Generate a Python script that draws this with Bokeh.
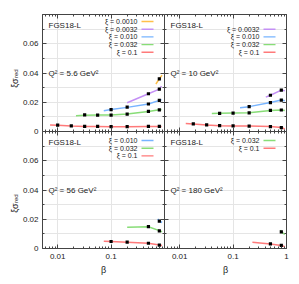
import math
from bokeh.plotting import figure
from bokeh.models import (FixedTicker, LinearAxis, LogAxis, Range1d, Label,
                          BoxAnnotation, PrintfTickFormatter, GridPlot)
from bokeh.core.properties import value
from bokeh.embed import file_html
from bokeh.resources import INLINE

# ---------------- data ----------------
q2_labels = ["Q² = 5.6 GeV²", "Q² = 10 GeV²", "Q² = 56 GeV²", "Q² = 180 GeV²"]
xi_labels = ["ξ = 0.0010", "ξ = 0.0032", "ξ = 0.010", "ξ = 0.032", "ξ = 0.1"]
xi_colors = ["#ffc04a", "#c490f5", "#77b4ff", "#88dd77", "#ff7a7a"]
x_ticks_left = [0.01, 0.1]
x_ticks_right = [0.01, 0.1, 1]
x_ticks_all = [0.01, 0.1, 1]
y_ticks = [0, 0.02, 0.04, 0.06]
y_ticks_all = [0, 0.02, 0.04, 0.06, 0.08]

# Q2 = 5.6 GeV2
q5_x0010_cb = [0.69, 0.8, 0.9]
q5_x0010_cv = [0.0325, 0.036, 0.0385]
q5_x0010_pb = [0.8]
q5_x0010_pv = [0.036]
q5_x0032_cb = [0.2, 0.5, 0.8, 0.88]
q5_x0032_cv = [0.0197, 0.0258, 0.029, 0.031]
q5_x0032_pb = [0.5, 0.8]
q5_x0032_pv = [0.0258, 0.029]
q5_x010_cb = [0.073, 0.1, 0.2, 0.5, 0.8, 0.88]
q5_x010_cv = [0.0142, 0.015, 0.0165, 0.0188, 0.0213, 0.0218]
q5_x010_pb = [0.1, 0.2, 0.5, 0.8]
q5_x010_pv = [0.015, 0.0166, 0.0188, 0.0213]
q5_x032_cb = [0.022, 0.032, 0.056, 0.1, 0.2, 0.5, 0.8, 0.88]
q5_x032_cv = [0.0108, 0.0111, 0.0112, 0.0112, 0.0119, 0.0137, 0.0148, 0.015]
q5_x032_pb = [0.032, 0.056, 0.1, 0.2, 0.5, 0.8]
q5_x032_pv = [0.0113, 0.0112, 0.0112, 0.0119, 0.0137, 0.0148]
q5_x1_cb = [0.0072, 0.01, 0.018, 0.032, 0.056, 0.1, 0.2, 0.5, 0.8, 0.88]
q5_x1_cv = [0.0045, 0.0043, 0.0038, 0.0035, 0.0034, 0.0033, 0.0033, 0.0035, 0.0035, 0.0035]
q5_x1_pb = [0.01, 0.018, 0.032, 0.056, 0.1, 0.2, 0.5, 0.8]
q5_x1_pv = [0.0043, 0.0038, 0.0035, 0.0035, 0.0034, 0.0034, 0.0035, 0.0035]

# Q2 = 10 GeV2
q10_x0032_cb = [0.41, 0.5, 0.8, 0.93]
q10_x0032_cv = [0.0235, 0.0248, 0.0283, 0.0278]
q10_x0032_pb = [0.5, 0.8]
q10_x0032_pv = [0.0248, 0.0283]
q10_x010_cb = [0.135, 0.2, 0.5, 0.8, 0.93]
q10_x010_cv = [0.0163, 0.017, 0.0198, 0.0215, 0.021]
q10_x010_pb = [0.2, 0.5, 0.8]
q10_x010_pv = [0.017, 0.0198, 0.0215]
q10_x032_cb = [0.04, 0.056, 0.1, 0.2, 0.5, 0.8, 0.93]
q10_x032_cv = [0.0123, 0.0124, 0.0126, 0.0128, 0.0144, 0.0147, 0.0143]
q10_x032_pb = [0.056, 0.1, 0.2, 0.5, 0.8]
q10_x032_pv = [0.0124, 0.0126, 0.0128, 0.0145, 0.0147]
q10_x1_cb = [0.013, 0.018, 0.032, 0.056, 0.1, 0.2, 0.5, 0.8, 0.93]
q10_x1_cv = [0.0055, 0.0052, 0.0045, 0.004, 0.0038, 0.0037, 0.0034, 0.0027, 0.0017]
q10_x1_pb = [0.018, 0.032, 0.056, 0.1, 0.2, 0.5, 0.8]
q10_x1_pv = [0.0052, 0.0045, 0.004, 0.0038, 0.0037, 0.0034, 0.0026]

# Q2 = 56 GeV2
q56_x010_cb = [0.75, 0.8, 0.9]
q56_x010_cv = [0.0203, 0.0188, 0.0178]
q56_x010_pb = [0.8]
q56_x010_pv = [0.0187]
q56_x032_cb = [0.2, 0.5, 0.8, 0.9]
q56_x032_cv = [0.0145, 0.0149, 0.0122, 0.0115]
q56_x032_pb = [0.5, 0.8]
q56_x032_pv = [0.0149, 0.012]
q56_x1_cb = [0.073, 0.1, 0.2, 0.5, 0.8, 0.9]
q56_x1_cv = [0.005, 0.0048, 0.0043, 0.0036, 0.0024, 0.002]
q56_x1_pb = [0.1, 0.2, 0.5, 0.8]
q56_x1_pv = [0.0048, 0.0043, 0.0036, 0.0023]

# Q2 = 180 GeV2
q180_x032_cb = [0.77, 0.8, 0.93]
q180_x032_cv = [0.0127, 0.0113, 0.0097]
q180_x032_pb = [0.8]
q180_x032_pv = [0.0113]
q180_x1_cb = [0.23, 0.5, 0.8, 0.93]
q180_x1_cv = [0.0043, 0.0031, 0.0021, 0.0013]
q180_x1_pb = [0.5, 0.8]
q180_x1_pv = [0.0031, 0.0021]

panels = [
    dict(q2=q2_labels[0], legend=[0, 1, 2, 3, 4], first_row=0, series=[
        (0, q5_x0010_cb, q5_x0010_cv, q5_x0010_pb, q5_x0010_pv),
        (1, q5_x0032_cb, q5_x0032_cv, q5_x0032_pb, q5_x0032_pv),
        (2, q5_x010_cb, q5_x010_cv, q5_x010_pb, q5_x010_pv),
        (3, q5_x032_cb, q5_x032_cv, q5_x032_pb, q5_x032_pv),
        (4, q5_x1_cb, q5_x1_cv, q5_x1_pb, q5_x1_pv)]),
    dict(q2=q2_labels[1], legend=[1, 2, 3, 4], first_row=1, series=[
        (1, q10_x0032_cb, q10_x0032_cv, q10_x0032_pb, q10_x0032_pv),
        (2, q10_x010_cb, q10_x010_cv, q10_x010_pb, q10_x010_pv),
        (3, q10_x032_cb, q10_x032_cv, q10_x032_pb, q10_x032_pv),
        (4, q10_x1_cb, q10_x1_cv, q10_x1_pb, q10_x1_pv)]),
    dict(q2=q2_labels[2], legend=[2, 3, 4], first_row=0, series=[
        (2, q56_x010_cb, q56_x010_cv, q56_x010_pb, q56_x010_pv),
        (3, q56_x032_cb, q56_x032_cv, q56_x032_pb, q56_x032_pv),
        (4, q56_x1_cb, q56_x1_cv, q56_x1_pb, q56_x1_pv)]),
    dict(q2=q2_labels[3], legend=[3, 4], first_row=0, series=[
        (3, q180_x032_cb, q180_x032_cv, q180_x032_pb, q180_x032_pv),
        (4, q180_x1_cb, q180_x1_cv, q180_x1_pb, q180_x1_pv)]),
]

# ---------------- styling ----------------
FW, FH = 122, 117
TOP = 14          # space above the upper panels
BOT = 36          # space below the lower panels (x tick labels + title)
LW = 42           # width of the left strip (y tick labels + y title)
SH = TOP + 2 * FH + BOT   # the strip spans both rows exactly
XMIN, XMAX = 0.0052, 1.0
YMAX = 0.08
AX = "#444444"
TXT = "#222222"
FONT = "Liberation Sans"
minor_x = [m * 10.0 ** e for e in (-3, -2, -1) for m in range(2, 10)]
minor_y = [i * 0.01 for i in range(0, 9)]


def base_style(ax):
    ax.axis_line_color = AX
    ax.major_tick_line_color = AX
    ax.minor_tick_line_color = AX
    ax.major_tick_in = 4
    ax.major_tick_out = 0
    ax.minor_tick_in = 2
    ax.minor_tick_out = 0
    ax.major_label_standoff = 0
    ax.axis_label_standoff = 0


def mirror_axes(p, kind, loc, majors, minors):
    # label-free axes: majors and minors both drawn as "minor" ticks
    for ticks, length in ((majors, 4), (minors, 2)):
        cls = LogAxis if kind == "x" else LinearAxis
        ax = cls(ticker=FixedTicker(ticks=[], minor_ticks=ticks))
        base_style(ax)
        ax.minor_tick_in = length
        if length == 2:
            ax.axis_line_color = None
        p.add_layout(ax, loc)


def make_panel(i, spec):
    left = (i % 2 == 0)
    bottom = (i >= 2)
    p = figure(frame_width=FW, frame_height=FH, x_axis_type="log",
               x_range=Range1d(XMIN, XMAX), y_range=Range1d(0, YMAX),
               output_backend="svg", toolbar_location=None,
               x_axis_location=None, y_axis_location=None,
               min_border_left=0,
               min_border_right=0 if left else 12,
               min_border_top=0 if bottom else TOP,
               min_border_bottom=BOT if bottom else 0)
    p.outline_line_color = None
    p.background_fill_color = "white"
    p.border_fill_color = "white"

    # x axes
    if bottom:
        xt = x_ticks_left if left else x_ticks_right
        ax = LogAxis(ticker=FixedTicker(ticks=xt, minor_ticks=minor_x),
                     formatter=PrintfTickFormatter(format="%g"))
        base_style(ax)
        ax.major_label_text_font = FONT
        ax.major_label_text_font_size = "8px"
        ax.major_label_text_color = TXT
        ax.major_label_standoff = 5
        ax.axis_label = "β"
        ax.axis_label_text_font = FONT
        ax.axis_label_text_font_style = "normal"
        ax.axis_label_text_font_size = "9px"
        ax.axis_label_text_color = TXT
        ax.axis_label_standoff = 3
        p.add_layout(ax, "below")
    else:
        mirror_axes(p, "x", "below", x_ticks_all, minor_x)
    mirror_axes(p, "x", "above", x_ticks_all, minor_x)

    # y axes (tick labels of the left column live in the strip)
    mirror_axes(p, "y", "left", y_ticks_all, minor_y)
    mirror_axes(p, "y", "right", y_ticks_all, minor_y)

    for (k, cb, cv, pb, pv) in spec["series"]:
        p.line(cb, cv, line_color=xi_colors[k], line_width=1.5)
    for (k, cb, cv, pb, pv) in spec["series"]:
        p.scatter(pb, pv, marker="square", size=3.2, fill_color="black",
                  line_color=None)

    # texts
    p.add_layout(Label(x=6, y=FH - 11, x_units="screen", y_units="screen",
                       text="FGS18-L", text_font=FONT, text_font_size="8px",
                       text_color=TXT, text_baseline="middle"))
    p.add_layout(Label(x=6, y=0.04, x_units="screen", y_units="data",
                       text=spec["q2"], text_font=FONT, text_font_size="8px",
                       text_color=TXT, text_baseline="middle"))
    # legend (gnuplot style: text then line sample)
    top0 = 9 if bottom else 7
    for r, k in enumerate(spec["legend"]):
        ry = FH - top0 - 7.7 * (r + spec["first_row"])
        p.add_layout(Label(x=FW - 27, y=ry, x_units="screen", y_units="screen",
                           text=xi_labels[k], text_font=FONT, text_font_size="7px",
                           text_color=TXT, text_align="right", text_baseline="middle"))
        p.add_layout(BoxAnnotation(left=FW - 23, right=FW - 11, bottom=ry - 0.7, top=ry + 0.7,
                                   left_units="screen", right_units="screen",
                                   top_units="screen", bottom_units="screen",
                                   fill_color=xi_colors[k], fill_alpha=1.0,
                                   line_color=None))
    return p


def left_strip():
    # strip left of the panels: y tick labels of both rows and the rotated y titles
    # its frame starts TOP px below the canvas top, like the upper panels' frames
    per_px = YMAX / FH
    y_top_zero = TOP + FH          # canvas y of the upper panel's zero line
    y_bot_zero = TOP + 2 * FH      # canvas y of the lower panel's zero line
    s = figure(frame_width=LW, frame_height=SH - TOP, output_backend="svg",
               toolbar_location=None, x_axis_location=None, y_axis_location=None,
               x_range=Range1d(0, LW),
               y_range=Range1d(-(SH - y_bot_zero) * per_px, (y_bot_zero - TOP) * per_px),
               min_border_left=0, min_border_right=0,
               min_border_top=TOP, min_border_bottom=0)
    s.extra_y_ranges = {"upper": Range1d(-(SH - y_top_zero) * per_px,
                                         (y_top_zero - TOP) * per_px)}
    s.outline_line_color = None
    s.grid.visible = False
    s.border_fill_color = "white"
    s.background_fill_color = "white"
    labels = ["%g" % t for t in y_ticks]
    for rng in ("upper", "default"):
        s.text(x=[LW - 4] * len(y_ticks), y=y_ticks, text=labels, y_range_name=rng,
               text_font=value(FONT), text_font_size="8px", text_color=TXT,
               text_align="right", text_baseline="middle")
    for junction in (SH - (y_top_zero - 53), SH - (y_bot_zero - 45)):
        s.add_layout(Label(x=14, y=junction, x_units="screen", y_units="screen",
                           text="ξσ", angle=math.pi / 2, text_font=FONT,
                           text_font_size="9px", text_color=TXT,
                           text_align="right", text_baseline="alphabetic"))
        s.add_layout(Label(x=15.5, y=junction + 0.5, x_units="screen", y_units="screen",
                           text="red", angle=math.pi / 2, text_font=FONT,
                           text_font_size="6px", text_color=TXT,
                           text_align="left", text_baseline="alphabetic"))
    return s


figs = [make_panel(i, s) for i, s in enumerate(panels)]
strip = left_strip()
grid = GridPlot(children=[(strip, 0, 0, 2, 1),
                          (figs[0], 0, 1), (figs[1], 0, 2),
                          (figs[2], 1, 1), (figs[3], 1, 2)],
                toolbar_location=None)

open("out.html", "w").write(file_html(grid, INLINE))
